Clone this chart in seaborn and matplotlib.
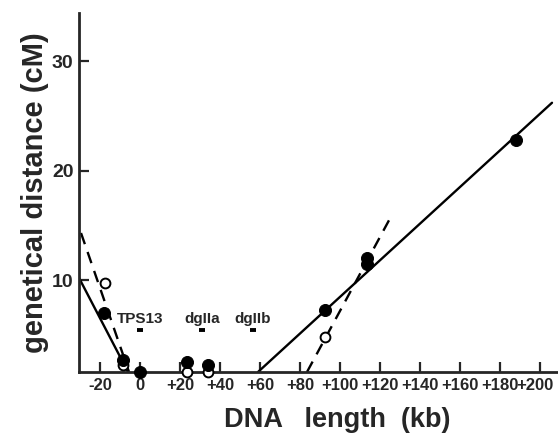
import pandas as pd
import matplotlib.pyplot as plt
import matplotlib.transforms as mtransforms
import seaborn as sns

# Measured points (kb, cM)
filled_x = [-18, -8.5, 0, 23.5, 34, 92.5, 113.5, 113.5, 188]
filled_y = [7.0, 2.7, 1.6, 2.5, 2.2, 7.3, 11.5, 12.0, 22.8]
open_x = [-17.5, -8.5, 23.5, 34, 92.5]
open_y = [9.75, 2.2, 1.6, 1.6, 4.8]

# Fitted lines (end points)
solid_left_x = [-30.5, -6]
solid_left_y = [10.2, 1.6]
dash_left_x = [-29.5, -5.5]
dash_left_y = [14.3, 1.6]
solid_right_x = [59, 206]
solid_right_y = [1.6, 26.2]
dash_right_x = [83.5, 125.5]
dash_right_y = [1.6, 15.8]

# Marker labels
marker_names = ["TPS13", "dgIIa", "dgIIb"]
marker_x = [0, 31, 56.5]
marker_y = [6.4, 6.4, 6.4]
marker_bar_y = [5.4, 5.4, 5.4]

x_ticks = [-20, 0, 20, 40, 60, 80, 100, 120, 140, 160, 180, 200]
x_tick_labels = ["-20", "0", "+20", "+40", "+60", "+80", "+100", "+120",
                 "+140", "+160", "+180", "+200"]
y_ticks = [10, 20, 30]

sns.set_style("ticks")
plt.rcParams['font.family'] = ['Liberation Sans', 'DejaVu Sans']
plt.rcParams['font.weight'] = 'bold'

fig = plt.figure(figsize=(5.58, 4.34), dpi=100)
ax = fig.add_axes([0.1416, 0.1429, 0.8584, 0.8271])

lines = [
    (solid_left_x, solid_left_y, "-"),
    (dash_left_x, dash_left_y, "--"),
    (solid_right_x, solid_right_y, "-"),
    (dash_right_x, dash_right_y, "--"),
]
for lx, ly, ls in lines:
    sns.lineplot(x=lx, y=ly, ax=ax, color="black", linewidth=1.7,
                 linestyle=ls, sort=False, estimator=None)
for line in ax.lines:
    if line.get_linestyle() == "--":
        line.set_dashes([5, 3.5])

sns.scatterplot(x=open_x, y=open_y, ax=ax, s=50, marker="o",
                facecolor="white", edgecolor="black", linewidth=1.4,
                clip_on=False, zorder=3)
sns.scatterplot(x=filled_x, y=filled_y, ax=ax, s=75, marker="o",
                color="black", edgecolor="black", clip_on=False, zorder=4)

for name, mx, my, by in zip(marker_names, marker_x, marker_y, marker_bar_y):
    ax.text(mx, my, name, ha="center", va="center", fontsize=11,
            fontweight="bold")
    ax.plot([mx], [by], marker="_", markersize=5, markeredgewidth=2.8,
            color="black")

ax.set_xlim(-30.5, 209)
ax.set_ylim(1.6, 34.4)
ax.set_xticks(x_ticks)
ax.set_xticklabels(x_tick_labels, fontsize=12, fontweight="bold")
ax.set_yticks(y_ticks)
ax.set_yticklabels([str(v) for v in y_ticks], fontsize=14, fontweight="bold")
ax.tick_params(direction="in", length=7, width=1.6, pad=4)
ax.tick_params(axis="y", pad=4)

# the last label sits tight against the edge in the original
last = ax.get_xticklabels()[-1]
last.set_transform(last.get_transform() +
                   mtransforms.ScaledTranslation(-5 / 100, 0, fig.dpi_scale_trans))

sns.despine(ax=ax)
for sp in ["left", "bottom"]:
    ax.spines[sp].set_linewidth(2)

ax.set_xlabel("DNA   length  (kb)", fontsize=19.5, fontweight="bold")
ax.xaxis.set_label_coords(0.54, -0.135)
ax.xaxis.label.set_va("center")
ax.set_ylabel("genetical distance (cM)", fontsize=21, fontweight="bold",
              labelpad=2)

fig.savefig("out.png", dpi=100)
plt.close(fig)
